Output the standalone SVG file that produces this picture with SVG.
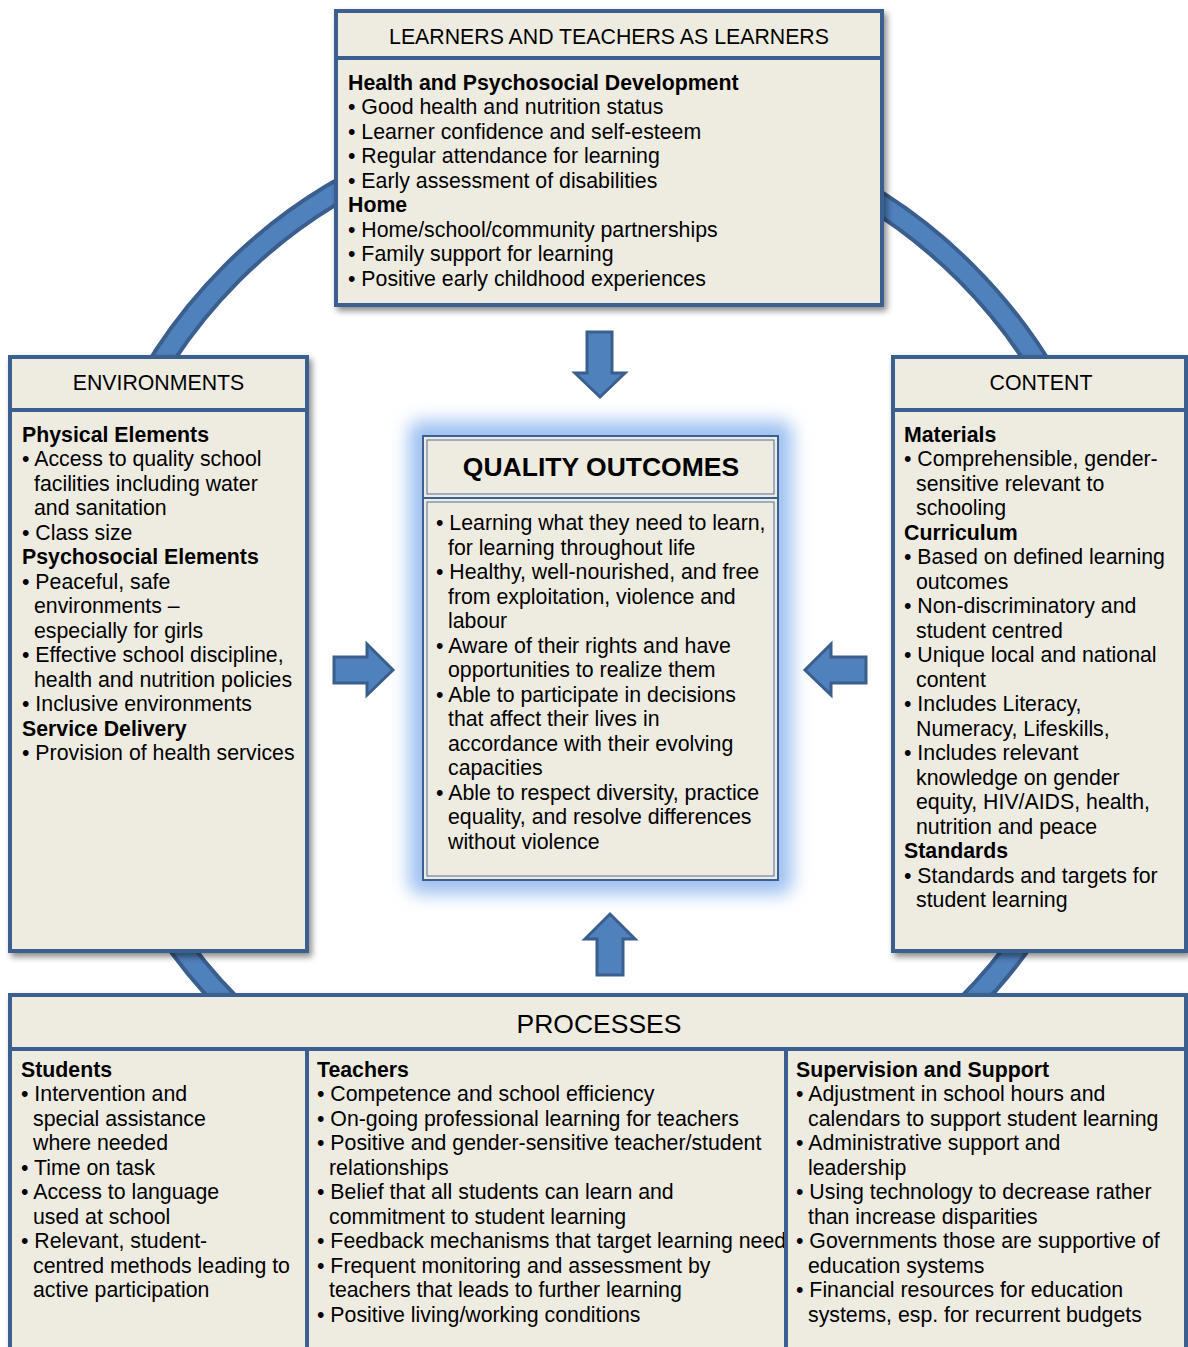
<svg xmlns="http://www.w3.org/2000/svg" width="1188" height="1347" viewBox="0 0 1188 1347">
  <defs>
    <filter id="shadow" x="-5%" y="-5%" width="115%" height="115%">
      <feDropShadow dx="3" dy="4" stdDeviation="3" flood-color="#000" flood-opacity="0.45"/>
    </filter>
    <filter id="glow" x="-20%" y="-20%" width="140%" height="140%">
      <feGaussianBlur stdDeviation="9"/>
    </filter>
    <style>
      .box { fill: #eeece1; stroke: #3b5f8e; stroke-width: 4; }
      .div { stroke: #3b5f8e; stroke-width: 4; fill: none; }
      .qo { fill: #eeece1; stroke: #3b5f8e; stroke-width: 2; }
      .qo-in { fill: none; stroke: #4f6f9c; stroke-width: 1; }
      .arrow { fill: #4f81bd; stroke: #3a5f8e; stroke-width: 3; stroke-linejoin: miter; }
      text { font-family: "Liberation Sans", Arial, sans-serif; font-size: 21.3px; fill: #000; }
      .b { font-weight: bold; }
      .hd { text-anchor: middle; }
      .big { font-size: 26.5px; text-anchor: middle; }
    </style>
  </defs>

  <rect width="1188" height="1347" fill="#fff"/>

  <!-- cycle ring behind the boxes -->
  <g id="ring">
    <circle cx="599" cy="640" r="519" fill="none" stroke="#3a5f8e" stroke-width="25"/>
    <circle cx="599" cy="640" r="519" fill="none" stroke="#4f81bd" stroke-width="17"/>
  </g>

  <!-- learners -->
  <g id="learners">
    <rect class="box" x="336" y="11" width="546" height="294" filter="url(#shadow)"/>
    <line class="div" x1="336" y1="58" x2="882" y2="58"/>
    <text class="hd" x="609" y="43.6">LEARNERS AND TEACHERS AS LEARNERS</text>
    <text class="b" x="348" y="89.5">Health and Psychosocial Development</text>
    <text x="348" y="114">• Good health and nutrition status</text>
    <text x="348" y="138.5">• Learner confidence and self-esteem</text>
    <text x="348" y="163">• Regular attendance for learning</text>
    <text x="348" y="187.5">• Early assessment of disabilities</text>
    <text class="b" x="348" y="212">Home</text>
    <text x="348" y="236.5">• Home/school/community partnerships</text>
    <text x="348" y="261">• Family support for learning</text>
    <text x="348" y="285.5">• Positive early childhood experiences</text>
  </g>

  <!-- environments -->
  <g id="environments">
    <rect class="box" x="10" y="357" width="297" height="594" filter="url(#shadow)"/>
    <line class="div" x1="10" y1="410" x2="307" y2="410"/>
    <text class="hd" x="158.5" y="389.7">ENVIRONMENTS</text>
    <text class="b" x="22" y="441.5">Physical Elements</text>
    <text x="22" y="466">• Access to quality school</text>
    <text x="34" y="490.5">facilities including water</text>
    <text x="34" y="515">and sanitation</text>
    <text x="22" y="539.5">• Class size</text>
    <text class="b" x="22" y="564">Psychosocial Elements</text>
    <text x="22" y="588.5">• Peaceful, safe</text>
    <text x="34" y="613">environments –</text>
    <text x="34" y="637.5">especially for girls</text>
    <text x="22" y="662">• Effective school discipline,</text>
    <text x="34" y="686.5">health and nutrition policies</text>
    <text x="22" y="711">• Inclusive environments</text>
    <text class="b" x="22" y="735.5">Service Delivery</text>
    <text x="22" y="760">• Provision of health services</text>
  </g>

  <!-- content -->
  <g id="content">
    <rect class="box" x="893" y="357" width="293" height="594" filter="url(#shadow)"/>
    <line class="div" x1="893" y1="410" x2="1186" y2="410"/>
    <text class="hd" x="1041" y="389.7">CONTENT</text>
    <text class="b" x="904" y="441.5">Materials</text>
    <text x="904" y="466">• Comprehensible, gender-</text>
    <text x="916" y="490.5">sensitive relevant to</text>
    <text x="916" y="515">schooling</text>
    <text class="b" x="904" y="539.5">Curriculum</text>
    <text x="904" y="564">• Based on defined learning</text>
    <text x="916" y="588.5">outcomes</text>
    <text x="904" y="613">• Non-discriminatory and</text>
    <text x="916" y="637.5">student centred</text>
    <text x="904" y="662">• Unique local and national</text>
    <text x="916" y="686.5">content</text>
    <text x="904" y="711">• Includes Literacy,</text>
    <text x="916" y="735.5">Numeracy, Lifeskills,</text>
    <text x="904" y="760">• Includes relevant</text>
    <text x="916" y="784.5">knowledge on gender</text>
    <text x="916" y="809">equity, HIV/AIDS, health,</text>
    <text x="916" y="833.5">nutrition and peace</text>
    <text class="b" x="904" y="858">Standards</text>
    <text x="904" y="882.5">• Standards and targets for</text>
    <text x="916" y="907">student learning</text>
  </g>

  <!-- quality outcomes, with a soft blue halo -->
  <g id="quality-outcomes">
    <rect x="409" y="421" width="383" height="473" rx="10" fill="#9dc0f0" filter="url(#glow)"/>
    <rect class="qo" x="423" y="436" width="355" height="62"/>
    <rect class="qo-in" x="427" y="440" width="347" height="54"/>
    <rect class="qo" x="423" y="498" width="355" height="382"/>
    <rect class="qo-in" x="427" y="502" width="347" height="374"/>
    <text class="b big" x="601" y="475.5">QUALITY OUTCOMES</text>
    <text x="436" y="530">• Learning what they need to learn,</text>
    <text x="448" y="554.5">for learning throughout life</text>
    <text x="436" y="579">• Healthy, well-nourished, and free</text>
    <text x="448" y="603.5">from exploitation, violence and</text>
    <text x="448" y="628">labour</text>
    <text x="436" y="652.5">• Aware of their rights and have</text>
    <text x="448" y="677">opportunities to realize them</text>
    <text x="436" y="701.5">• Able to participate in decisions</text>
    <text x="448" y="726">that affect their lives in</text>
    <text x="448" y="750.5">accordance with their evolving</text>
    <text x="448" y="775">capacities</text>
    <text x="436" y="799.5">• Able to respect diversity, practice</text>
    <text x="448" y="824">equality, and resolve differences</text>
    <text x="448" y="848.5">without violence</text>
  </g>

  <!-- processes -->
  <g id="processes">
    <rect class="box" x="10" y="995" width="1176" height="370" filter="url(#shadow)"/>
    <line class="div" x1="10" y1="1049" x2="1186" y2="1049"/>
    <text class="big" x="599" y="1032.5">PROCESSES</text>
    <text class="b" x="21" y="1076.5">Students</text>
    <text x="21" y="1101">• Intervention and</text>
    <text x="33" y="1125.5">special assistance</text>
    <text x="33" y="1150">where needed</text>
    <text x="21" y="1174.5">• Time on task</text>
    <text x="21" y="1199">• Access to language</text>
    <text x="33" y="1223.5">used at school</text>
    <text x="21" y="1248">• Relevant, student-</text>
    <text x="33" y="1272.5">centred methods leading to</text>
    <text x="33" y="1297">active participation</text>

    <text class="b" x="317" y="1076.5">Teachers</text>
    <text x="317" y="1101">• Competence and school efficiency</text>
    <text x="317" y="1125.5">• On-going professional learning for teachers</text>
    <text x="317" y="1150">• Positive and gender-sensitive teacher/student</text>
    <text x="329" y="1174.5">relationships</text>
    <text x="317" y="1199">• Belief that all students can learn and</text>
    <text x="329" y="1223.5">commitment to student learning</text>
    <text x="317" y="1248">• Feedback mechanisms that target learning need</text>
    <text x="317" y="1272.5">• Frequent monitoring and assessment by</text>
    <text x="329" y="1297">teachers that leads to further learning</text>
    <text x="317" y="1321.5">• Positive living/working conditions</text>

    <rect x="788" y="1051" width="396" height="300" fill="#eeece1"/>
    <text class="b" x="796" y="1076.5">Supervision and Support</text>
    <text x="796" y="1101">• Adjustment in school hours and</text>
    <text x="808" y="1125.5">calendars to support student learning</text>
    <text x="796" y="1150">• Administrative support and</text>
    <text x="808" y="1174.5">leadership</text>
    <text x="796" y="1199">• Using technology to decrease rather</text>
    <text x="808" y="1223.5">than increase disparities</text>
    <text x="796" y="1248">• Governments those are supportive of</text>
    <text x="808" y="1272.5">education systems</text>
    <text x="796" y="1297">• Financial resources for education</text>
    <text x="808" y="1321.5">systems, esp. for recurrent budgets</text>

    <line class="div" x1="307" y1="1049" x2="307" y2="1347"/>
    <line class="div" x1="786" y1="1049" x2="786" y2="1347"/>
  </g>

  <!-- block arrows pointing to the centre -->
  <g id="connectors">
    <path class="arrow" d="M587,332 H612 V373 H625 L600,397 L575,373 H587 Z"/>
    <path class="arrow" d="M597,975 H623 V939 H635 L610,914 L585,939 H597 Z"/>
    <path class="arrow" d="M334,657 V683 H367 V695 L393,670 L367,644 V657 Z"/>
    <path class="arrow" d="M866,657 V683 H831 V695 L805,670 L831,644 V657 Z"/>
  </g>
</svg>
